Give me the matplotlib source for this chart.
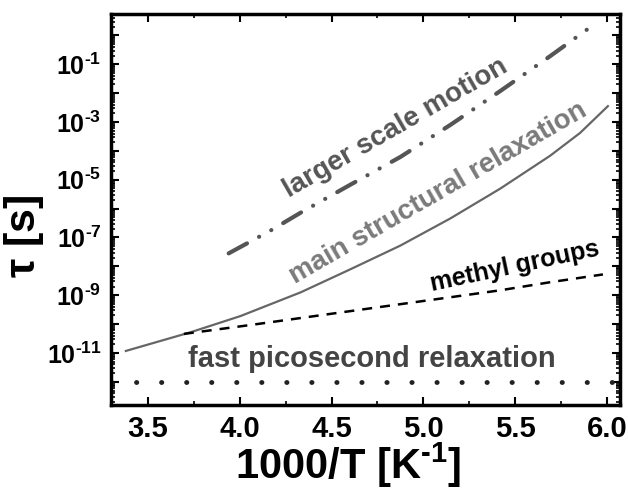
import matplotlib
matplotlib.use('Agg')
import matplotlib.pyplot as plt
import numpy as np
from matplotlib.ticker import MultipleLocator, LogLocator, FixedLocator, FixedFormatter, NullFormatter

plt.rcParams['font.family'] = ['Liberation Sans', 'DejaVu Sans']
plt.rcParams['font.weight'] = 'bold'
plt.rcParams['mathtext.fontset'] = 'custom'
plt.rcParams['mathtext.rm'] = 'Liberation Sans:bold'
plt.rcParams['mathtext.bf'] = 'Liberation Sans:bold'
plt.rcParams['mathtext.it'] = 'Liberation Sans:bold'

# values: 1000/T and log10(tau / s)
main_x = [3.38, 3.734, 4.005, 4.332, 4.603, 4.875, 5.147, 5.418, 5.69, 5.853, 6.005]
main_log = [-10.93, -10.28, -9.72, -8.90, -8.10, -7.28, -6.34, -5.31, -4.17, -3.38, -2.45]

methyl_x = [3.696, 4.06, 4.332, 4.603, 4.875, 5.147, 5.418, 5.69, 5.978]
methyl_log = [-10.34, -10.03, -9.79, -9.55, -9.31, -9.07, -8.83, -8.55, -8.28]

large_x = [3.94, 4.168, 4.332, 4.603, 4.875, 5.147, 5.418, 5.69, 5.908]
large_log = [-7.55, -6.76, -6.14, -5.17, -4.21, -3.10, -1.93, -0.72, 0.28]

fast_x = [3.3, 6.07]
fast_log = [-12.0, -12.0]

ytick_exp = [-1, -3, -5, -7, -9, -11]

fig = plt.figure(figsize=(6.28, 4.92), dpi=100)
ax = fig.add_axes([0.177, 0.177, 0.81, 0.795])

ax.plot(main_x, 10.0 ** np.array(main_log), color='#666666', lw=1.6)
ax.plot(methyl_x, 10.0 ** np.array(methyl_log), color='black', lw=1.8,
        dashes=(4.0, 3.2))
ax.plot(large_x, 10.0 ** np.array(large_log), color='#555555', lw=3.0,
        dashes=(5.0, 3.3, 0.03, 3.3, 0.03, 3.3), dash_capstyle='round')
ax.plot(fast_x, 10.0 ** np.array(fast_log), color='#222222', lw=3.5,
        dashes=(0.05, 5.1), dash_capstyle='round')

ax.set_yscale('log')
ax.set_xlim(3.3, 6.07)
ax.set_ylim(10 ** -12.8, 10 ** 0.75)

ax.xaxis.set_major_locator(MultipleLocator(0.5))
ax.xaxis.set_minor_locator(MultipleLocator(0.25))
ax.xaxis.set_major_formatter(plt.FuncFormatter(lambda v, p: f'{v:.1f}'))

exps = list(range(-13, 2))
ax.yaxis.set_major_locator(FixedLocator([10.0 ** e for e in exps]))
ax.yaxis.set_major_formatter(FixedFormatter(
    [(r'$10^{\text{-}%d}$' % -e) if e in ytick_exp else '' for e in exps]))
ax.yaxis.set_minor_locator(LogLocator(base=10, subs=np.arange(2, 10), numticks=30))
ax.yaxis.set_minor_formatter(NullFormatter())

ax.tick_params(which='both', direction='in', top=True, right=True)
ax.tick_params(which='major', length=6, width=1.5, pad=7)
ax.tick_params(axis='x', which='major', labelsize=21)
ax.tick_params(axis='y', which='major', labelsize=18)
ax.tick_params(which='minor', length=3, width=1.2)
for s in ax.spines.values():
    s.set_linewidth(2.5)

ax.set_xlabel(r'1000/T [K$^{\text{-}1}$]', fontsize=30, fontweight='bold')
ax.xaxis.set_label_coords(0.466, -0.092)
ax.set_ylabel(r'$\tau$ [s]', fontsize=31, fontweight='bold')
ax.yaxis.set_label_coords(-0.128, 0.43)

ax.text(4.85, 10 ** -3.2, 'larger scale motion', rotation=30, color='#555555',
        fontsize=20, ha='center', va='center', rotation_mode='anchor')
ax.text(5.08, 10 ** -5.45, 'main structural relaxation', rotation=30, color='#7a7a7a',
        fontsize=20, ha='center', va='center', rotation_mode='anchor')
ax.text(5.5, 10 ** -8.0, 'methyl groups', rotation=12, color='black',
        fontsize=18, ha='center', va='center', rotation_mode='anchor')
ax.text(4.72, 10 ** -11.2, 'fast picosecond relaxation', color='#444444',
        fontsize=21, ha='center', va='center')

fig.savefig('out.png', dpi=100)
